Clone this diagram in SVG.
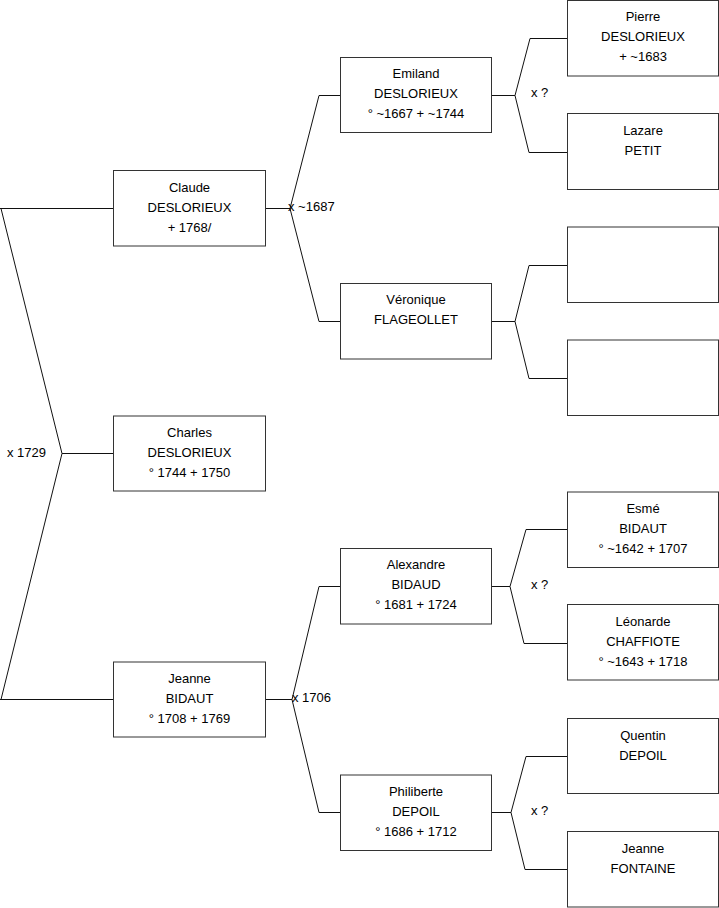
<svg xmlns="http://www.w3.org/2000/svg" width="719" height="908" viewBox="0 0 719 908">
<style>
.box{fill:#fff;stroke:#333;stroke-width:1}
.ln{fill:none;stroke:#111;stroke-width:1}
text{font-family:"Liberation Sans",Arial,sans-serif;font-size:13px;fill:#000}
.c{text-anchor:middle}
</style>
<rect width="719" height="908" fill="#fff"/>
<g id="connectors">
<path class="ln" d="M0,208.5 H113.5 M1,208.5 L62,453.5 L1,699.5 M62,453.5 H113.5 M0,699.5 H113.5"/>
<path class="ln" d="M265.5,208.5 H290 M290,208.5 L319,95.5 H340.5 M290,208.5 L319,321.5 H340.5"/>
<path class="ln" d="M265.5,699.5 H292 M292,699.5 L319,586.5 H340.5 M292,699.5 L319,812.5 H340.5"/>
<path class="ln" d="M491.5,95.5 H515 L530,38.5 H567.5 M515,95.5 L529,152.5 H567.5"/>
<path class="ln" d="M491.5,321.5 H515 L529,265.5 H567.5 M515,321.5 L529,378.5 H567.5"/>
<path class="ln" d="M491.5,586.5 H510 L526,529.5 H567.5 M510,586.5 L524,643.5 H567.5"/>
<path class="ln" d="M491.5,812.5 H511 L526,756.5 H567.5 M511,812.5 L525,869.5 H567.5"/>
<text x="288" y="211">x ~1687</text>
<text x="7" y="457">x 1729</text>
<text x="292" y="702">x 1706</text>
<text x="531" y="97">x ?</text>
<text x="531" y="589">x ?</text>
<text x="531" y="815">x ?</text>
</g>
<g id="claude"><rect class="box" x="113.5" y="170.5" width="152" height="75.5"/>
<text class="c" x="189.5" y="191.5">Claude</text><text class="c" x="189.5" y="211.5">DESLORIEUX</text><text class="c" x="189.5" y="231.5">+ 1768/</text></g>
<g id="charles"><rect class="box" x="113.5" y="416" width="152" height="75"/>
<text class="c" x="189.5" y="437">Charles</text><text class="c" x="189.5" y="457">DESLORIEUX</text><text class="c" x="189.5" y="477">° 1744 + 1750</text></g>
<g id="jeanne-bidaut"><rect class="box" x="113.5" y="662" width="152" height="75"/>
<text class="c" x="189.5" y="683">Jeanne</text><text class="c" x="189.5" y="703">BIDAUT</text><text class="c" x="189.5" y="723">° 1708 + 1769</text></g>
<g id="emiland"><rect class="box" x="340.5" y="57.5" width="151" height="75"/>
<text class="c" x="416" y="78">Emiland</text><text class="c" x="416" y="98">DESLORIEUX</text><text class="c" x="416" y="118">° ~1667 + ~1744</text></g>
<g id="veronique"><rect class="box" x="340.5" y="283.5" width="151" height="75.5"/>
<text class="c" x="416" y="303.5">Véronique</text><text class="c" x="416" y="323.5">FLAGEOLLET</text></g>
<g id="alexandre"><rect class="box" x="340.5" y="548.5" width="151" height="75.5"/>
<text class="c" x="416" y="569">Alexandre</text><text class="c" x="416" y="589">BIDAUD</text><text class="c" x="416" y="609">° 1681 + 1724</text></g>
<g id="philiberte"><rect class="box" x="340.5" y="775" width="151" height="75.5"/>
<text class="c" x="416" y="796">Philiberte</text><text class="c" x="416" y="816">DEPOIL</text><text class="c" x="416" y="836">° 1686 + 1712</text></g>
<g id="pierre"><rect class="box" x="567.5" y="0.5" width="151" height="75.5"/>
<text class="c" x="643" y="21">Pierre</text><text class="c" x="643" y="41">DESLORIEUX</text><text class="c" x="643" y="61">+ ~1683</text></g>
<g id="lazare"><rect class="box" x="567.5" y="113.5" width="151" height="76"/>
<text class="c" x="643" y="134.5">Lazare</text><text class="c" x="643" y="154.5">PETIT</text></g>
<g id="empty1"><rect class="box" x="567.5" y="227" width="151" height="75.5"/></g>
<g id="empty2"><rect class="box" x="567.5" y="340" width="151" height="75.5"/></g>
<g id="esme"><rect class="box" x="567.5" y="492" width="151" height="75.5"/>
<text class="c" x="643" y="513">Esmé</text><text class="c" x="643" y="533">BIDAUT</text><text class="c" x="643" y="553">° ~1642 + 1707</text></g>
<g id="leonarde"><rect class="box" x="567.5" y="604.5" width="151" height="75.5"/>
<text class="c" x="643" y="625.5">Léonarde</text><text class="c" x="643" y="645.5">CHAFFIOTE</text><text class="c" x="643" y="665.5">° ~1643 + 1718</text></g>
<g id="quentin"><rect class="box" x="567.5" y="718.5" width="151" height="75"/>
<text class="c" x="643" y="739.5">Quentin</text><text class="c" x="643" y="759.5">DEPOIL</text></g>
<g id="jeanne-fontaine"><rect class="box" x="567.5" y="831.5" width="151" height="75.5"/>
<text class="c" x="643" y="852.5">Jeanne</text><text class="c" x="643" y="872.5">FONTAINE</text></g>
</svg>
